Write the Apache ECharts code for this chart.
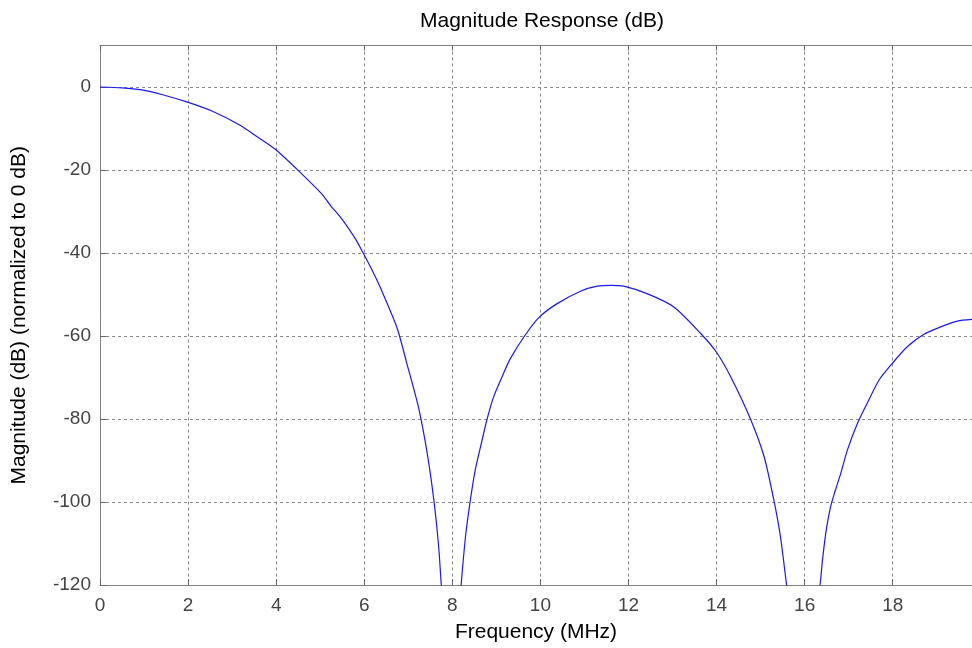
<!DOCTYPE html>
<html>
<head>
<meta charset="utf-8">
<script src="https://cdn.jsdelivr.net/npm/echarts@6/dist/echarts.min.js"></script>
<style>
html,body{margin:0;padding:0;background:#fff;}
#chart{width:972px;height:648px;}
</style>
</head>
<body>
<div id="chart"></div>
<script>
var chartTitle = 'Magnitude Response (dB)';
var xAxisName = 'Frequency (MHz)';
var yAxisName = 'Magnitude (dB) (normalized to 0 dB)';

var freqMHz = [
  0, 0.5, 0.95, 1.4, 1.97, 2.54, 3.14, 3.6, 3.98, 4.51, 5.04, 5.23, 5.49, 5.8, 5.97,
  6.21, 6.36, 6.74, 6.97, 7.23, 7.43, 7.58, 7.69, 7.75, 7.98,
  8.2, 8.3, 8.41, 8.52, 8.64, 8.79, 8.94, 9.13, 9.32, 9.66, 9.98, 10.38, 10.91, 11.29,
  11.6, 11.89, 12.42, 13.03, 13.64, 13.99, 14.32, 14.77, 15.08, 15.3, 15.45, 15.59, 15.97,
  16.35, 16.4, 16.48, 16.59, 16.7, 16.82, 16.97, 17.2, 17.42, 17.69, 17.99, 18.33,
  18.71, 19.09, 19.47, 19.8
];
var magDB = [
  0, -0.2, -0.7, -1.8, -3.6, -5.8, -9.0, -12.2, -15.0, -20.2, -25.8, -28.5, -31.8, -36.6, -39.9,
  -44.8, -48.2, -57.9, -66.7, -77.1, -88.3, -99.5, -110.8, -120, -150,
  -120, -108.3, -99.5, -92.3, -86.7, -80, -74.6, -69.8, -65.4, -59.7, -55.4, -52.2, -49.2, -48.0,
  -47.8, -48.0, -49.8, -53.0, -59.4, -63.8, -69.8, -80, -89.1, -99.5, -108.3, -120, -150,
  -120, -114.5, -107.5, -101.1, -97.1, -93.1, -87.5, -81.0, -76.2, -70.6, -66.6, -62.6,
  -59.6, -57.8, -56.4, -56.0
];
var xTickStep = 2;
var yTickStep = 20;

var seriesData = freqMHz.map(function (f, i) { return [f, magDB[i]]; });

var chart = echarts.init(document.getElementById('chart'), null, {renderer: 'canvas'});
var fontFam = '"Liberation Sans", Arial, Helvetica, sans-serif';
var gridDash = {color: '#8a8a8a', width: 1, type: [3, 3]};

chart.setOption({
  animation: false,
  backgroundColor: '#ffffff',
  title: {
    text: chartTitle,
    left: 537,
    top: 6,
    textAlign: 'center',
    textStyle: {fontFamily: fontFam, fontSize: 21, fontWeight: 'normal', color: '#000'}
  },
  grid: {
    left: 100, right: 0, top: 45.5, bottom: 62.5
  },
  xAxis: [{
    type: 'value',
    min: 0, max: 19.8, interval: xTickStep,
    name: xAxisName,
    nameLocation: 'middle',
    nameGap: 37,
    nameTextStyle: {fontFamily: fontFam, fontSize: 21, color: '#000'},
    axisLine: {show: true, onZero: false, lineStyle: {color: '#808080', width: 1}},
    axisTick: {show: true, inside: true, length: 6, lineStyle: {color: '#666'}},
    axisLabel: {
      fontFamily: fontFam, fontSize: 19, color: '#444', margin: 11,
      showMaxLabel: false
    },
    splitLine: {show: true, showMaxLine: false, lineStyle: gridDash}
  }, {
    type: 'value',
    position: 'top',
    min: 0, max: 19.8, interval: xTickStep,
    axisLine: {show: true, onZero: false, lineStyle: {color: '#808080', width: 1}},
    axisTick: {show: true, inside: true, length: 5, lineStyle: {color: '#666'}},
    axisLabel: {show: false},
    splitLine: {show: false}
  }],
  yAxis: {
    type: 'value',
    min: -120, max: 10, interval: yTickStep,
    name: yAxisName,
    nameLocation: 'middle',
    nameGap: 70,
    nameTextStyle: {fontFamily: fontFam, fontSize: 21, color: '#000'},
    axisLine: {show: true, lineStyle: {color: '#808080', width: 1}},
    axisTick: {show: true, inside: true, length: 6, lineStyle: {color: '#666'}},
    axisLabel: {
      fontFamily: fontFam, fontSize: 19, color: '#444', margin: 9,
      showMaxLabel: false
    },
    splitLine: {show: true, showMaxLine: false, lineStyle: gridDash}
  },
  series: [{
    type: 'line',
    xAxisIndex: 0,
    data: seriesData,
    showSymbol: false,
    symbol: 'none',
    clip: true,
    smooth: 0.25,
    lineStyle: {color: '#1a1ae6', width: 1.2},
    itemStyle: {color: '#1a1ae6'}
  }]
});
</script>
</body>
</html>
